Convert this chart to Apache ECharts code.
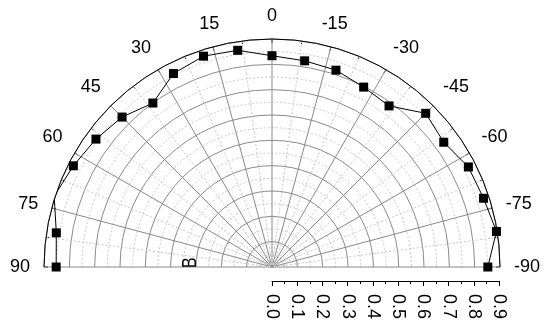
<!DOCTYPE html>
<html><head><meta charset="utf-8">
<script src="https://cdn.jsdelivr.net/npm/echarts@6/dist/echarts.min.js"></script>
<style>html,body{margin:0;padding:0;background:#fff}#c{width:555px;height:325px}</style>
</head><body><div id="c"></div>
<script>
const angles = [90, 81, 72, 63, 54, 45, 36, 27, 18, 9, 0, -9, -18, -27, -36, -45, -54, -63, -72, -81, -90];
const radii  = [0.852, 0.862, 0.904, 0.880, 0.859, 0.837, 0.800, 0.857, 0.875, 0.866, 0.834,
                0.824, 0.817, 0.797, 0.786, 0.858, 0.838, 0.870, 0.878, 0.897, 0.852];
const radiusMin = 0, radiusMax = 0.9, radiusStep = 0.1;
const angleMin = -90, angleMax = 90, angleStep = 15;
const radiusAxisTitle = 'B';

const FONT = '"Liberation Sans", Arial, sans-serif';
const chart = echarts.init(document.getElementById('c'), null, {renderer: 'canvas'});
const data = angles.map((a, i) => [radii[i], a]);

chart.setOption({
  animation: false,
  backgroundColor: '#fff',
  polar: {center: [272, 267], radius: 228},
  angleAxis: {
    type: 'value', min: angleMin, max: angleMax, interval: angleStep,
    startAngle: 0, endAngle: 180, clockwise: false, z: 0,
    axisLine: {show: true, lineStyle: {color: '#000', width: 1}},
    axisTick: {show: true, inside: true, length: 4, lineStyle: {color: '#000'}},
    minorTick: {show: true, splitNumber: 2, length: 3, lineStyle: {color: '#000'}},
    axisLabel: {show: true, margin: 14, color: '#000', fontSize: 18, fontFamily: FONT,
      formatter: v => String(v)},
    splitLine: {show: true, lineStyle: {color: '#8a8a8a', width: 1}},
    minorSplitLine: {show: true, lineStyle: {color: '#c8c8c8', width: 1, type: [2, 2]}}
  },
  radiusAxis: {
    type: 'value', min: radiusMin, max: radiusMax, interval: radiusStep, z: 0,
    axisLine: {show: false}, axisTick: {show: false}, axisLabel: {show: false},
    splitLine: {show: true, lineStyle: {color: '#8a8a8a', width: 1}},
    minorTick: {show: false, splitNumber: 2},
    minorSplitLine: {show: true, lineStyle: {color: '#c8c8c8', width: 1, type: [2, 2]}}
  },
  grid: {left: 272, width: 227, top: 271, height: 10},
  xAxis: {
    type: 'value', min: radiusMin, max: radiusMax, interval: radiusStep, position: 'bottom', z: 5,
    axisLine: {show: true, lineStyle: {color: '#000', width: 1}},
    axisTick: {show: true, length: 5, lineStyle: {color: '#000'}},
    minorTick: {show: true, splitNumber: 2, length: 3, lineStyle: {color: '#000'}},
    splitLine: {show: false},
    axisLabel: {rotate: -90, margin: 13, color: '#000', fontSize: 18, fontFamily: FONT,
      formatter: v => v.toFixed(1)}
  },
  yAxis: {type: 'value', show: false, min: 0, max: 1},
  graphic: [{
    type: 'rect', z: 2, silent: true,
    shape: {x: 38, y: 268, width: 468, height: 60},
    style: {fill: '#fff'}
  }, {
    type: 'text', x: 190, y: 268, rotation: Math.PI / 2, scaleX: 0.8, z: 10,
    style: {text: radiusAxisTitle, fill: '#000', font: '20px ' + FONT,
      textAlign: 'left', textVerticalAlign: 'middle'}
  }],
  series: [{
    type: 'line', coordinateSystem: 'polar', data: data, z: 8,
    symbol: 'rect', symbolSize: 9, showSymbol: true,
    lineStyle: {color: '#000', width: 1},
    itemStyle: {color: '#000'}
  }]
});
</script></body></html>
